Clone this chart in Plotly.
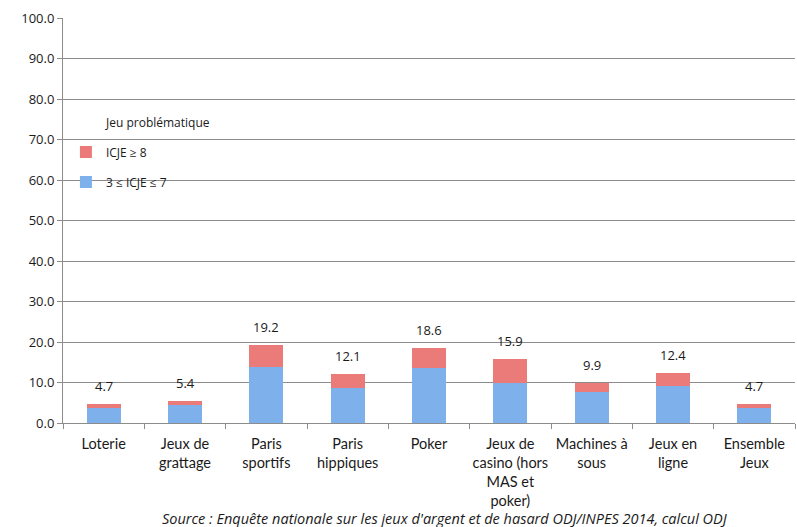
import plotly.graph_objects as go

categories = [
    "Loterie", "Jeux de<br>grattage", "Paris<br>sportifs", "Paris<br>hippiques",
    "Poker", "Jeux de<br>casino (hors<br>MAS et<br>poker)", "Machines à<br>sous",
    "Jeux en<br>ligne", "Ensemble<br>Jeux",
]
moderate = [3.8, 4.5, 13.8, 8.6, 13.5, 9.8, 7.6, 9.1, 3.8]   # 3 ≤ ICJE ≤ 7
excessive = [0.9, 0.9, 5.4, 3.5, 5.1, 6.1, 2.3, 3.3, 0.9]   # ICJE ≥ 8
totals = [round(a + b, 1) for a, b in zip(moderate, excessive)]

y_ticks = [0, 10, 20, 30, 40, 50, 60, 70, 80, 90, 100]

FONT = "'Open Sans', Lato, sans-serif"
LABEL_FONT = "Lato, 'Open Sans', sans-serif"
TXT = "#1a1a1a"
GRID = "#8c8c8c"

fig = go.Figure()
fig.add_trace(go.Bar(
    x=categories, y=moderate, name="3 ≤ ICJE ≤ 7", legendgroup="a", legendrank=2,
    marker=dict(color="#7eb0ec", line=dict(width=0)),
))
fig.add_trace(go.Bar(
    x=categories, y=excessive, name="ICJE ≥ 8", legendgroup="b", legendrank=1,
    marker=dict(color="#ea7b79", line=dict(width=0)),
))

for cat, tot in zip(categories, totals):
    fig.add_annotation(
        x=cat, y=tot, text=f"{tot:.1f}", showarrow=False,
        yanchor="bottom", yshift=7, font=dict(size=13, color=TXT, family=FONT),
    )

# legend heading
fig.add_annotation(
    xref="paper", yref="paper", x=0.054, y=0.741, xanchor="left", yanchor="middle",
    text="Jeu problématique", showarrow=False,
    font=dict(size=12, color=TXT, family=FONT),
)

fig.add_annotation(
    xref="paper", yref="paper", x=0.5225, y=-0.237, yanchor="middle",
    text="<i>Source : Enquête nationale sur les jeux d'argent et de hasard ODJ/INPES 2014, calcul ODJ</i>",
    showarrow=False, font=dict(size=14.5, color=TXT, family=FONT),
)

fig.update_layout(
    width=797, height=527,
    margin=dict(l=63, r=2, t=18, b=104),
    plot_bgcolor="white", paper_bgcolor="white",
    barmode="stack", bargap=0.58,
    font=dict(family=FONT, size=13, color=TXT),
    showlegend=True,
    legend=dict(
        traceorder="grouped",
        x=0.004, y=0.705, xanchor="left", yanchor="top",
        bgcolor="rgba(0,0,0,0)", font=dict(size=12),
        itemwidth=30, tracegroupgap=11,
    ),
)
fig.update_xaxes(
    type="category", tickson="boundaries", ticks="outside", ticklen=5,
    tickcolor=GRID, showline=True, linecolor=GRID, linewidth=1,
    showgrid=False, tickfont=dict(size=14.5, color=TXT, family=LABEL_FONT),
    ticklabelstandoff=8, tickangle=0, automargin=False,
)
fig.update_yaxes(
    range=[0, 100], tickvals=y_ticks, tickformat=".1f",
    ticks="outside", ticklen=5, tickcolor=GRID,
    showline=True, linecolor=GRID, linewidth=1,
    showgrid=True, gridcolor=GRID, gridwidth=1, zeroline=False,
    tickfont=dict(size=13, color=TXT), automargin=False,
)

fig.write_html("out.html")
